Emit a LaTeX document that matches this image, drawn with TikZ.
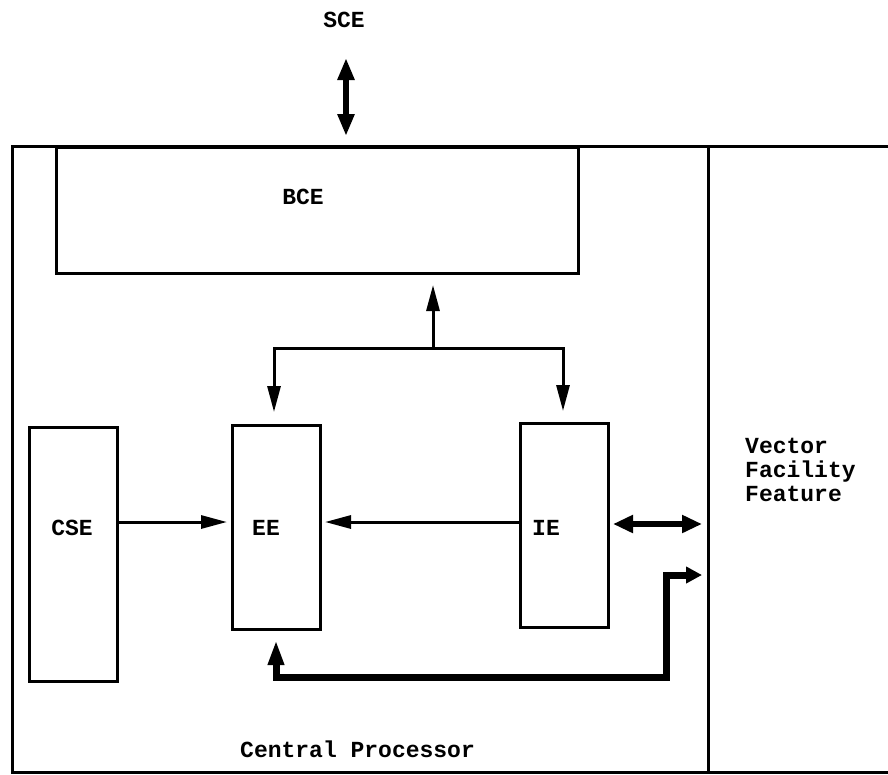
\documentclass[tikz,border=0pt]{standalone}
\usepackage{fontspec}
\newfontfamily\labfont{Liberation Mono}
\usetikzlibrary{arrows.meta}
\begin{document}
\begin{tikzpicture}[x=1pt,y=-1pt,
  lab/.style={font=\labfont\bfseries\fontsize{23}{24}\selectfont, inner sep=0pt},
  box/.style={draw, line width=3pt, inner sep=0pt, anchor=north west, minimum width=88pt},
  frame/.style={line width=3pt, line join=miter},
  thinline/.style={line width=3pt, line cap=rect, line join=miter},
  thinarr/.style={line width=3pt, line join=miter, -{Triangle[length=26pt,width=13pt]}},
  fatdbl/.style={line width=6.5pt, {Triangle[length=22pt,width=16pt]}-{Triangle[length=22pt,width=16pt]}},
  fatpath/.style={line width=7pt, line join=miter, {Triangle[length=25pt,width=15pt]}-{Triangle[length=16pt,width=16pt]}}
]
\useasboundingbox (0,0) rectangle (888,774);
% outer frame
\draw[frame] (888,146) -- (12,146) -- (12,772) -- (888,772);
\draw[frame] (708,146) -- (708,772);
% boxes
\node[box, minimum width=522pt, minimum height=126pt] (bce) at (55,146) {};
\node[box, minimum height=254pt] (cse) at (28,426) {};
\node[box, minimum height=204pt] (ee) at (231,424) {};
\node[box, minimum height=204pt] (ie) at (519,422) {};
% labels
\node[lab, anchor=base] (sce) at (344,27) {SCE};
\node[lab, anchor=base] (bcel) at (303,204) {BCE};
\node[lab, anchor=base] (csel) at (72,535) {CSE};
\node[lab, anchor=base] (eel) at (266,535) {EE};
\node[lab, anchor=base] (iel) at (546,535) {IE};
\node[lab, anchor=base west] (v1) at (745,453) {Vector};
\node[lab, anchor=base west] (v2) at (745,477) {Facility};
\node[lab, anchor=base west] (v3) at (745,501) {Feature};
\node[lab, anchor=base west] (cp) at (240,757) {Central Processor};
% SCE arrow
\coordinate (sceT) at (346,58);
\coordinate (sceB) at (346,136);
\draw[fatdbl] (sceT) -- (sceB);
% BCE tree
\coordinate (j) at (433,348);
\coordinate (jl) at (274,348);
\coordinate (jr) at (563,348);
\coordinate (bceTip) at (433,285);
\coordinate (eeTip) at (274,412);
\coordinate (ieTip) at (563,411);
\draw[thinline] (jl) -- (jr);
\draw[thinarr] (j) -- (bceTip);
\draw[thinarr] (jl) -- (eeTip);
\draw[thinarr] (jr) -- (ieTip);
% horizontal arrows
\coordinate (ya) at (0,522);
\draw[thinarr] (cse.east |- ya) -- ([xshift=-4pt]ee.west |- ya);
\draw[thinarr] (ie.west |- ya) -- ([xshift=3pt]ee.east |- ya);
% IE <-> vector
\coordinate (ivL) at (613,524);
\coordinate (ivR) at (702,524);
\draw[fatdbl, {Triangle[length=20pt,width=17pt]}-{Triangle[length=20pt,width=17pt]}] (ivL) -- (ivR);
% bottom path
\coordinate (bTip) at (276,640);
\coordinate (bC1) at (276,677);
\coordinate (bC2) at (666,677);
\coordinate (bC3) at (666,575);
\coordinate (bEnd) at (702,575);
\draw[fatpath] (bTip) -- (bC1) -- (bC2) -- (bC3) -- (bEnd);
\end{tikzpicture}
\end{document}
